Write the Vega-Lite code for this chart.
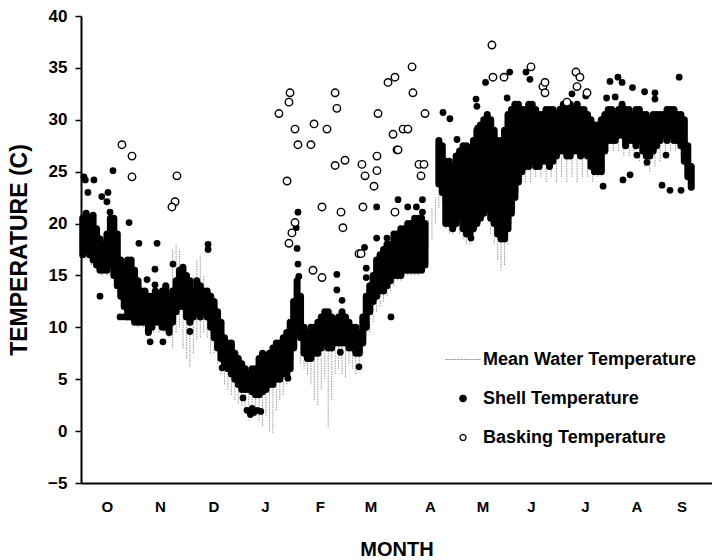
{
"$schema": "https://vega.github.io/schema/vega-lite/v6.json",
"width": 631, "height": 467,
"autosize": {"type": "none"},
"padding": {"left": 81, "top": 16, "right": 0, "bottom": 77},
"background": "white",
"config": {"view": {"stroke": null}, "font": "Liberation Sans",
 "legend": {"orient": "none", "legendX": 373, "legendY": 334.5, "labelFont": "Liberation Sans", "labelFontSize": 18, "labelFontWeight": "bold", "labelColor": "black", "labelLimit": 400, "rowPadding": 21, "labelOffset": 11, "symbolSize": 100, "symbolOpacity": 1}},
"datasets": {
"water": [
{"d":0,"t":17,"t2":20},{"d":3,"t":16.5,"t2":20},{"d":6,"t":16,"t2":19.5},{"d":9,"t":15.5,"t2":19},{"d":12,"t":15,"t2":18},{"d":15,"t":15,"t2":18.5},{"d":18,"t":15,"t2":19.5},{"d":21,"t":13.5,"t2":18},{"d":24,"t":12,"t2":16},{"d":27,"t":11,"t2":15.5},{"d":30,"t":10.5,"t2":15},{"d":33,"t":10,"t2":14},{"d":36,"t":10,"t2":13.5},{"d":39,"t":9.5,"t2":13},{"d":42,"t":9.5,"t2":13},{"d":45,"t":9.5,"t2":13},{"d":48,"t":9.5,"t2":13.5},{"d":51,"t":9,"t2":14},{"d":53,"t":8,"t2":17.5},{"d":55,"t":9.5,"t2":18},{"d":57,"t":10,"t2":17.5},{"d":59,"t":8,"t2":16},{"d":61,"t":7,"t2":15},{"d":63,"t":6.2,"t2":13},{"d":65,"t":7.5,"t2":15},{"d":67,"t":8.8,"t2":16.5},{"d":69,"t":9,"t2":17},{"d":71,"t":9.5,"t2":15},{"d":73,"t":9,"t2":13},{"d":75,"t":7.5,"t2":12},{"d":77,"t":7.5,"t2":11.5},{"d":79,"t":6.5,"t2":11},{"d":81,"t":5.5,"t2":10},{"d":83,"t":4.5,"t2":9},{"d":85,"t":4,"t2":8},{"d":87,"t":3.5,"t2":7.5},{"d":89,"t":3,"t2":7},{"d":91,"t":2.7,"t2":6.5},{"d":93,"t":2.5,"t2":6},{"d":95,"t":2,"t2":5.5},{"d":97,"t":2.5,"t2":5.5},{"d":99,"t":1.5,"t2":5.5},{"d":101,"t":2,"t2":6},{"d":103,"t":1,"t2":6.5},{"d":105,"t":0.5,"t2":7},{"d":107,"t":1.5,"t2":7},{"d":109,"t":0,"t2":7},{"d":111,"t":-0.2,"t2":7.5},{"d":113,"t":2,"t2":8},{"d":115,"t":3,"t2":8.5},{"d":117,"t":3.5,"t2":9},{"d":119,"t":4.5,"t2":9.5},{"d":121,"t":5,"t2":10},{"d":123,"t":7,"t2":12},{"d":125,"t":8,"t2":13},{"d":127,"t":6.5,"t2":11},{"d":129,"t":6,"t2":9.5},{"d":131,"t":5.5,"t2":9},{"d":133,"t":4.5,"t2":9},{"d":135,"t":3,"t2":9.5},{"d":137,"t":2.5,"t2":9.5},{"d":139,"t":4,"t2":10},{"d":141,"t":5,"t2":10.5},{"d":143,"t":0.4,"t2":10.5},{"d":145,"t":3,"t2":10.5},{"d":147,"t":5.5,"t2":10},{"d":149,"t":6,"t2":10.5},{"d":151,"t":5.5,"t2":11},{"d":153,"t":5.2,"t2":10.5},{"d":155,"t":6.5,"t2":10},{"d":157,"t":6,"t2":9.5},{"d":159,"t":5.5,"t2":9.5},{"d":161,"t":6.5,"t2":9.5},{"d":163,"t":7.5,"t2":11},{"d":165,"t":9,"t2":12.5},{"d":167,"t":9.5,"t2":13.5},{"d":169,"t":10.5,"t2":14.5},{"d":171,"t":11.5,"t2":16},{"d":173,"t":12,"t2":16.5},{"d":175,"t":12.5,"t2":17},{"d":177,"t":13,"t2":17.5},{"d":179,"t":13.5,"t2":18},{"d":181,"t":14,"t2":18.5},{"d":183,"t":14.5,"t2":18.5},{"d":185,"t":14.5,"t2":19},{"d":187,"t":15,"t2":19},{"d":189,"t":15,"t2":19.5},{"d":191,"t":15,"t2":19.5},{"d":193,"t":15,"t2":20},{"d":195,"t":15,"t2":20},{"d":197,"t":15.5,"t2":20},{"d":199,"t":16,"t2":20},{"d":201,"t":17.8,"t2":20.5},{"d":203,"t":18.5,"t2":21.5},{"d":205,"t":20,"t2":22.5},{"d":207,"t":21.5,"t2":24},{"d":209,"t":22,"t2":26},{"d":211,"t":19.5,"t2":25},{"d":213,"t":19,"t2":25},{"d":215,"t":19,"t2":25},{"d":217,"t":19.5,"t2":25.5},{"d":219,"t":19,"t2":26},{"d":221,"t":18.5,"t2":26},{"d":223,"t":18,"t2":26},{"d":225,"t":18,"t2":26},{"d":227,"t":19,"t2":27},{"d":229,"t":19.5,"t2":28},{"d":231,"t":20,"t2":28.5},{"d":233,"t":20.5,"t2":29},{"d":235,"t":20.5,"t2":29},{"d":237,"t":19,"t2":29},{"d":239,"t":18,"t2":28},{"d":241,"t":16.5,"t2":27},{"d":243,"t":15.5,"t2":27},{"d":245,"t":16,"t2":28},{"d":247,"t":18,"t2":29},{"d":249,"t":20,"t2":30},{"d":251,"t":21.5,"t2":30},{"d":253,"t":23,"t2":30},{"d":255,"t":24,"t2":30},{"d":257,"t":24,"t2":30},{"d":260,"t":24,"t2":30},{"d":263,"t":24.5,"t2":30},{"d":266,"t":24.5,"t2":30},{"d":269,"t":24,"t2":30},{"d":272,"t":24.5,"t2":30},{"d":275,"t":24,"t2":29.5},{"d":278,"t":24.5,"t2":30},{"d":281,"t":24,"t2":30},{"d":284,"t":24.5,"t2":30},{"d":287,"t":24,"t2":30},{"d":290,"t":24.5,"t2":30},{"d":293,"t":24.5,"t2":29.5},{"d":296,"t":24,"t2":29},{"d":299,"t":24.5,"t2":29},{"d":302,"t":26,"t2":29.5},{"d":305,"t":27,"t2":30},{"d":308,"t":27,"t2":30},{"d":311,"t":27,"t2":30},{"d":314,"t":26.5,"t2":30},{"d":317,"t":26.5,"t2":30},{"d":320,"t":26.5,"t2":30},{"d":323,"t":26,"t2":30},{"d":326,"t":25.5,"t2":29.5},{"d":329,"t":25,"t2":29.5},{"d":332,"t":25.5,"t2":29.5},{"d":335,"t":26,"t2":29.5},{"d":338,"t":26.5,"t2":30},{"d":341,"t":27,"t2":30},{"d":344,"t":27,"t2":30},{"d":347,"t":26.5,"t2":29.5},{"d":350,"t":25,"t2":28.5},{"d":353,"t":23.5,"t2":25.5}
],
"band": [
{"d":1,"t":17,"t2":20.5},{"d":3,"t":17.5,"t2":21},{"d":5,"t":17,"t2":20.5},{"d":7,"t":16.5,"t2":20.8},{"d":9,"t":16,"t2":19.5},{"d":11,"t":15.5,"t2":18.5},{"d":13,"t":15.5,"t2":18},{"d":15,"t":15.5,"t2":19},{"d":17,"t":16,"t2":20.5},{"d":19,"t":15,"t2":20.5},{"d":21,"t":14,"t2":19},{"d":23,"t":13,"t2":16.5},{"d":25,"t":12,"t2":16},{"d":27,"t":11,"t2":16.5},{"d":29,"t":11,"t2":16.5},{"d":31,"t":10.5,"t2":15.5},{"d":33,"t":10.5,"t2":14.5},{"d":35,"t":10.5,"t2":13.5},{"d":37,"t":10.5,"t2":13.5},{"d":39,"t":9.5,"t2":13},{"d":41,"t":10,"t2":13},{"d":43,"t":10.5,"t2":13.5},{"d":45,"t":10.5,"t2":13},{"d":47,"t":10,"t2":13.5},{"d":49,"t":10,"t2":14},{"d":51,"t":9.5,"t2":12.5},{"d":53,"t":10.5,"t2":13.5},{"d":55,"t":11.5,"t2":14.5},{"d":57,"t":12,"t2":15.5},{"d":59,"t":12,"t2":15.8},{"d":61,"t":11,"t2":15},{"d":63,"t":10.5,"t2":14.5},{"d":65,"t":11,"t2":13.5},{"d":67,"t":11.5,"t2":14.5},{"d":69,"t":11,"t2":14},{"d":71,"t":11.5,"t2":13.5},{"d":73,"t":11,"t2":13.5},{"d":75,"t":10,"t2":13},{"d":77,"t":9,"t2":12.5},{"d":79,"t":8,"t2":11.5},{"d":81,"t":7,"t2":10.5},{"d":83,"t":6.5,"t2":9},{"d":85,"t":6,"t2":8.5},{"d":87,"t":5.5,"t2":8.5},{"d":89,"t":5,"t2":7.5},{"d":91,"t":4.5,"t2":7},{"d":93,"t":4,"t2":6.5},{"d":95,"t":4,"t2":6},{"d":97,"t":4,"t2":5.5},{"d":99,"t":3.8,"t2":6},{"d":101,"t":3.5,"t2":6},{"d":103,"t":3.5,"t2":7},{"d":105,"t":3.8,"t2":7.5},{"d":107,"t":4,"t2":7},{"d":109,"t":4.5,"t2":7.5},{"d":111,"t":4.5,"t2":8},{"d":113,"t":5,"t2":8.5},{"d":115,"t":5,"t2":8.5},{"d":117,"t":5.5,"t2":9},{"d":119,"t":5.5,"t2":9.5},{"d":121,"t":6,"t2":10.5},{"d":123,"t":8,"t2":12.5},{"d":125,"t":10,"t2":14.5},{"d":127,"t":9,"t2":13},{"d":129,"t":7.5,"t2":10},{"d":131,"t":7,"t2":9.5},{"d":133,"t":7,"t2":10},{"d":135,"t":7.5,"t2":10},{"d":137,"t":7.5,"t2":10.5},{"d":139,"t":8,"t2":11},{"d":141,"t":8.5,"t2":11.5},{"d":143,"t":8,"t2":11.5},{"d":145,"t":8,"t2":11},{"d":147,"t":8.5,"t2":10.5},{"d":149,"t":8.5,"t2":11},{"d":151,"t":8.5,"t2":11.5},{"d":153,"t":8.5,"t2":11},{"d":155,"t":8,"t2":10.5},{"d":157,"t":8,"t2":10},{"d":159,"t":7.5,"t2":10},{"d":161,"t":7.5,"t2":9.5},{"d":163,"t":8.5,"t2":11},{"d":165,"t":10,"t2":13},{"d":167,"t":11.5,"t2":14},{"d":169,"t":12.5,"t2":15},{"d":171,"t":13,"t2":16.5},{"d":173,"t":13.5,"t2":17},{"d":175,"t":13.5,"t2":17.5},{"d":177,"t":14,"t2":18},{"d":179,"t":14.5,"t2":18},{"d":181,"t":15,"t2":19},{"d":183,"t":15,"t2":19},{"d":185,"t":15,"t2":19.5},{"d":187,"t":15.5,"t2":19.5},{"d":189,"t":15.5,"t2":20},{"d":191,"t":15.5,"t2":20},{"d":193,"t":15.5,"t2":20.5},{"d":195,"t":15.5,"t2":20.5},{"d":197,"t":15.5,"t2":20.5},{"d":199,"t":16,"t2":20},
{"d":207,"t":23.8,"t2":28},{"d":209,"t":23,"t2":27.5},{"d":211,"t":20,"t2":26},{"d":213,"t":20,"t2":26},{"d":215,"t":19.5,"t2":25.5},{"d":217,"t":20,"t2":26.5},{"d":219,"t":20.5,"t2":27},{"d":221,"t":19.5,"t2":27.5},{"d":223,"t":19,"t2":27.5},{"d":225,"t":19,"t2":27},{"d":227,"t":19.5,"t2":28},{"d":229,"t":20,"t2":29},{"d":231,"t":20.5,"t2":29.5},{"d":233,"t":21,"t2":30},{"d":235,"t":21.5,"t2":30.5},{"d":237,"t":20.5,"t2":30},{"d":239,"t":20,"t2":29},{"d":241,"t":19,"t2":28},{"d":243,"t":18.5,"t2":28},{"d":245,"t":18.5,"t2":29},{"d":247,"t":19.5,"t2":30.5},{"d":249,"t":21,"t2":31},{"d":251,"t":22.5,"t2":31.5},{"d":253,"t":24,"t2":31.5},{"d":255,"t":25,"t2":31},{"d":257,"t":25.5,"t2":31},{"d":259,"t":25.5,"t2":31.5},{"d":261,"t":26,"t2":31.5},{"d":263,"t":25.5,"t2":31},{"d":265,"t":25.5,"t2":30.5},{"d":267,"t":26,"t2":30.5},{"d":269,"t":26,"t2":31},{"d":271,"t":25.5,"t2":31},{"d":273,"t":26,"t2":31},{"d":275,"t":26.5,"t2":30.5},{"d":277,"t":27,"t2":31},{"d":279,"t":27,"t2":31.5},{"d":281,"t":26.5,"t2":31},{"d":283,"t":26.5,"t2":31.5},{"d":285,"t":27,"t2":31},{"d":287,"t":27,"t2":31.5},{"d":289,"t":26.5,"t2":31},{"d":291,"t":27,"t2":31},{"d":293,"t":26.5,"t2":30.5},{"d":295,"t":25.5,"t2":30},{"d":297,"t":25,"t2":29.5},{"d":299,"t":25,"t2":29.5},{"d":301,"t":25,"t2":30},{"d":303,"t":27,"t2":30.5},{"d":305,"t":28,"t2":31},{"d":307,"t":28,"t2":31},{"d":309,"t":28,"t2":30.5},{"d":311,"t":28.5,"t2":31},{"d":313,"t":28.5,"t2":31.5},{"d":315,"t":27.5,"t2":31},{"d":317,"t":28,"t2":31},{"d":319,"t":28,"t2":30.5},{"d":321,"t":27.5,"t2":31},{"d":323,"t":28,"t2":31},{"d":325,"t":27,"t2":30.5},{"d":327,"t":26.5,"t2":30.5},{"d":329,"t":26.5,"t2":30},{"d":331,"t":27,"t2":30.5},{"d":333,"t":27.5,"t2":30.5},{"d":335,"t":28,"t2":30.5},{"d":337,"t":28.5,"t2":30.5},{"d":339,"t":28,"t2":31},{"d":341,"t":28.5,"t2":31},{"d":343,"t":28,"t2":31},{"d":345,"t":28,"t2":30.5},{"d":347,"t":27.5,"t2":30.5},{"d":349,"t":26,"t2":30},{"d":351,"t":24.5,"t2":27.5},{"d":353,"t":23.5,"t2":25.5}
],
"shell": [
{"d":1.7,"t":24.5},{"d":2.5,"t":24.2},{"d":4,"t":23},{"d":7.5,"t":24.2},{"d":3.5,"t":20.5},{"d":12,"t":22.6},{"d":15,"t":22.1},{"d":15.6,"t":23},{"d":18.5,"t":25.1},{"d":16.8,"t":21.1},{"d":27.8,"t":20.1},{"d":33.5,"t":18.1},{"d":44,"t":18.1},{"d":42.8,"t":15.6},{"d":53.2,"t":16.1},{"d":11,"t":13},{"d":22.6,"t":11},{"d":25,"t":11},{"d":40,"t":8.6},{"d":47.4,"t":8.6},{"d":73.5,"t":18},{"d":73.5,"t":17.5},{"d":63,"t":9.6},{"d":81.6,"t":6.1},{"d":38.2,"t":14.6},{"d":42.8,"t":14.1},{"d":93.7,"t":3.2},{"d":96,"t":2},{"d":98,"t":1.6},{"d":100,"t":1.8},{"d":102,"t":2},{"d":104,"t":1.9},{"d":99,"t":2.2},{"d":119.7,"t":5.1},{"d":125.5,"t":21.1},{"d":125,"t":17.6},{"d":125.5,"t":16.1},{"d":124.5,"t":19.6},{"d":126,"t":14.9},{"d":148,"t":15.1},{"d":148,"t":13.6},{"d":151,"t":12.6},{"d":150,"t":7.6},{"d":160.8,"t":6.2},{"d":164,"t":17.7},{"d":165,"t":15.7},{"d":165,"t":14.8},{"d":171,"t":21.6},{"d":171,"t":18.6},{"d":177,"t":18.6},{"d":179.3,"t":11},{"d":183.4,"t":22.3},{"d":189,"t":21.6},{"d":194,"t":21.6},{"d":197.5,"t":22.3},{"d":197.5,"t":21.1},{"d":209.4,"t":30.7},{"d":213.4,"t":30.1},{"d":217.5,"t":28.1},{"d":228.5,"t":32},{"d":229,"t":31.3},{"d":234,"t":33.6},{"d":248,"t":34.6},{"d":246.5,"t":32.1},{"d":257.4,"t":34.6},{"d":259.7,"t":33.9},{"d":225.6,"t":18.6},{"d":229.5,"t":29.2},{"d":302,"t":23.6},{"d":306,"t":33.7},{"d":310.6,"t":34.1},{"d":313,"t":33.6},{"d":319,"t":33.1},{"d":326,"t":32.7},{"d":332,"t":32.6},{"d":332,"t":32},{"d":346,"t":34.1},{"d":304,"t":32.1},{"d":309,"t":32.2},{"d":313.5,"t":24.2},{"d":317.6,"t":24.7},{"d":321.6,"t":26.6},{"d":327.4,"t":25.9},{"d":336.1,"t":23.7},{"d":340.7,"t":23.2},{"d":347.1,"t":23.2},{"d":338.4,"t":26.6},{"d":284,"t":32.5},{"d":292,"t":32.3}
],
"bask": [
{"d":23.7,"t":27.6},{"d":29.5,"t":26.5},{"d":29.5,"t":24.5},{"d":55.5,"t":24.6},{"d":54.4,"t":22.1},{"d":52.6,"t":21.6},{"d":114.5,"t":30.6},{"d":120.9,"t":32.6},{"d":120.3,"t":31.7},{"d":123.8,"t":29.1},{"d":125.5,"t":27.6},{"d":119.2,"t":24.1},{"d":120.3,"t":18.1},{"d":122,"t":19.1},{"d":123.8,"t":20.1},{"d":134.2,"t":15.5},{"d":139.4,"t":14.8},{"d":133,"t":27.6},{"d":134.8,"t":29.6},{"d":142.3,"t":29.1},{"d":147,"t":32.6},{"d":148,"t":31.1},{"d":147,"t":25.6},{"d":152.7,"t":26.1},{"d":139.4,"t":21.6},{"d":150.4,"t":21.1},{"d":151.5,"t":19.6},{"d":160.8,"t":17.1},{"d":162,"t":17.1},{"d":162.5,"t":25.7},{"d":164.3,"t":24.6},{"d":169.5,"t":23.6},{"d":171.2,"t":26.5},{"d":171.2,"t":25.1},{"d":163.1,"t":21.6},{"d":171.8,"t":30.6},{"d":177.6,"t":33.6},{"d":181.6,"t":34.1},{"d":191.5,"t":35.1},{"d":192,"t":32.6},{"d":199,"t":30.6},{"d":180.5,"t":28.6},{"d":186.3,"t":29.1},{"d":189.1,"t":29.1},{"d":182.8,"t":27.1},{"d":183.4,"t":27.1},{"d":195.5,"t":25.7},{"d":198.4,"t":25.7},{"d":196.7,"t":24.6},{"d":181.6,"t":21.1},{"d":237.7,"t":37.2},{"d":238.3,"t":34.1},{"d":244.7,"t":34.1},{"d":260.3,"t":35.1},{"d":267.2,"t":33.2},{"d":268.4,"t":33.6},{"d":268.4,"t":32.6},{"d":281.1,"t":31.7},{"d":286.3,"t":34.6},{"d":288.6,"t":34.1},{"d":286.9,"t":33.2},{"d":292.7,"t":32.6}
]
},
"encoding": {
"x": {"field": "d", "type": "quantitative", "title": "MONTH",
 "scale": {"domain": [0, 365], "nice": false, "zero": false},
 "axis": {"values": [14.9,45.7,76.6,106.4,138.2,167.5,201.9,232.2,260.3,291.5,321.3,347.3],
  "labelExpr": "datum.value < 30 ? 'O' : datum.value < 60 ? 'N' : datum.value < 90 ? 'D' : datum.value < 120 ? 'J' : datum.value < 150 ? 'F' : datum.value < 185 ? 'M' : datum.value < 215 ? 'A' : datum.value < 245 ? 'M' : datum.value < 275 ? 'J' : datum.value < 305 ? 'J' : datum.value < 335 ? 'A' : 'S'",
  "ticks": false, "grid": false, "domainColor": "black", "domainWidth": 2,
  "labelFont": "Liberation Sans", "labelFontSize": 15, "labelFontWeight": "bold", "labelColor": "black", "labelPadding": 16, "labelFlush": false, "labelOverlap": false,
  "titleFont": "Liberation Sans", "titleFontSize": 20, "titleFontWeight": "bold", "titleColor": "black", "titleY": 72, "titleBaseline": "alphabetic"}},
"y": {"field": "t", "type": "quantitative", "title": "TEMPERATURE (C)",
 "scale": {"domain": [-5, 40], "nice": false, "zero": false},
 "axis": {"values": [-5,0,5,10,15,20,25,30,35,40], "grid": false, "tickSize": 6, "tickWidth": 1.5, "tickColor": "black",
  "domainColor": "black", "domainWidth": 2,
  "labelFont": "Liberation Sans", "labelFontSize": 17, "labelFontWeight": "bold", "labelColor": "black", "labelPadding": 8,
  "titleFont": "Liberation Sans", "titleFontSize": 23, "titleFontWeight": "bold", "titleColor": "black",
  "titleX": -62, "titleY": 233.5, "titleAngle": -90, "titleBaseline": "middle", "titleAlign": "center"}}
},
"layer": [
{"data": {"name": "water"}, "mark": {"type": "rule", "strokeWidth": 0.9, "strokeDash": [1.5, 1]},
 "encoding": {"y2": {"field": "t2"},
  "stroke": {"datum": "Mean Water Temperature", "title": null,
   "scale": {"domain": ["Mean Water Temperature", "Shell Temperature", "Basking Temperature"], "range": ["#8c8c8c", "black", "black"]},
   "legend": {"title": null, "encode": {"symbols": {"update": {
      "shape": {"signal": "datum.value === 'Mean Water Temperature' ? 'stroke' : 'circle'"},
      "size": {"signal": "datum.value === 'Mean Water Temperature' ? 1225 : (datum.value === 'Shell Temperature' ? 40 : 36)"},
      "strokeWidth": {"signal": "datum.value === 'Mean Water Temperature' ? 1 : 1.3"},
      "strokeDash": {"signal": "datum.value === 'Mean Water Temperature' ? [2, 1] : [1, 0]"}}}}}}}},
{"data": {"name": "band"}, "mark": {"type": "rule", "strokeWidth": 7, "strokeCap": "round"},
 "encoding": {"y2": {"field": "t2"},
  "stroke": {"datum": "Shell Temperature", "title": null,
   "legend": {"title": null, "encode": {"symbols": {"update": {
      "shape": {"signal": "datum.value === 'Mean Water Temperature' ? 'stroke' : 'circle'"},
      "size": {"signal": "datum.value === 'Mean Water Temperature' ? 1225 : (datum.value === 'Shell Temperature' ? 40 : 36)"},
      "strokeWidth": {"signal": "datum.value === 'Mean Water Temperature' ? 1 : 1.3"},
      "strokeDash": {"signal": "datum.value === 'Mean Water Temperature' ? [2, 1] : [1, 0]"}}}}}}}},
{"data": {"name": "shell"}, "mark": {"type": "circle", "size": 46, "opacity": 1},
 "encoding": {
  "fill": {"datum": "Shell Temperature", "title": null,
   "scale": {"domain": ["Mean Water Temperature", "Shell Temperature", "Basking Temperature"], "range": ["transparent", "black", "white"]},
   "legend": {"title": null, "encode": {"symbols": {"update": {
      "shape": {"signal": "datum.value === 'Mean Water Temperature' ? 'stroke' : 'circle'"},
      "size": {"signal": "datum.value === 'Mean Water Temperature' ? 1225 : (datum.value === 'Shell Temperature' ? 40 : 36)"},
      "strokeWidth": {"signal": "datum.value === 'Mean Water Temperature' ? 1 : 1.3"},
      "strokeDash": {"signal": "datum.value === 'Mean Water Temperature' ? [2, 1] : [1, 0]"}}}}}}}},
{"data": {"name": "bask"}, "mark": {"type": "point", "shape": "circle", "filled": true, "strokeWidth": 1.4, "size": 56, "opacity": 1, "fillOpacity": 1},
 "encoding": {
  "fill": {"datum": "Basking Temperature", "title": null,
   "legend": {"title": null, "encode": {"symbols": {"update": {
      "shape": {"signal": "datum.value === 'Mean Water Temperature' ? 'stroke' : 'circle'"},
      "size": {"signal": "datum.value === 'Mean Water Temperature' ? 1225 : (datum.value === 'Shell Temperature' ? 40 : 36)"},
      "strokeWidth": {"signal": "datum.value === 'Mean Water Temperature' ? 1 : 1.3"},
      "strokeDash": {"signal": "datum.value === 'Mean Water Temperature' ? [2, 1] : [1, 0]"}}}}}},
  "stroke": {"datum": "Basking Temperature", "title": null,
   "legend": {"title": null, "encode": {"symbols": {"update": {
      "shape": {"signal": "datum.value === 'Mean Water Temperature' ? 'stroke' : 'circle'"},
      "size": {"signal": "datum.value === 'Mean Water Temperature' ? 1225 : (datum.value === 'Shell Temperature' ? 40 : 36)"},
      "strokeWidth": {"signal": "datum.value === 'Mean Water Temperature' ? 1 : 1.3"},
      "strokeDash": {"signal": "datum.value === 'Mean Water Temperature' ? [2, 1] : [1, 0]"}}}}}}}}
]
}
